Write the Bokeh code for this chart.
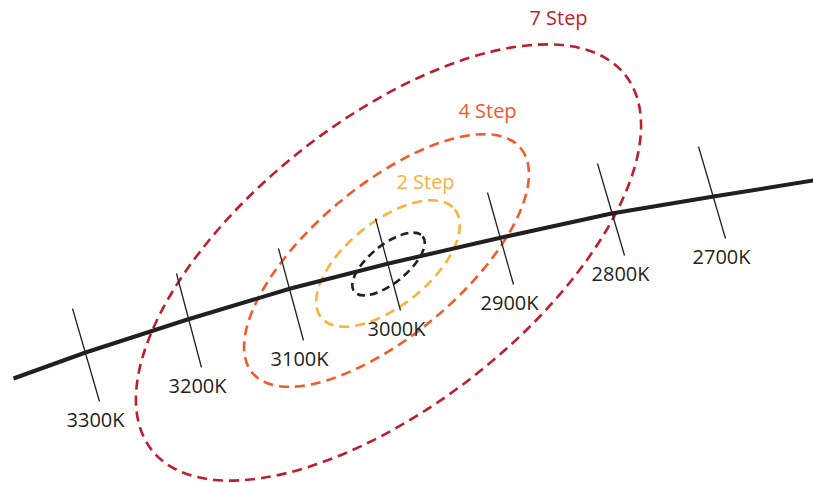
from bokeh.plotting import figure
from bokeh.models import Range1d, ColumnDataSource
from bokeh.core.properties import value
from bokeh.embed import file_html
from bokeh.resources import INLINE
import math

# Planckian locus (chart coordinates, y up)
locus_x = [13, 85, 187, 290, 388, 501, 611, 713, 813]
locus_y = [105, 131, 164, 195, 220, 246, 270, 287, 303]

# Isotemperature lines
cct_labels = ["3300K", "3200K", "3100K", "3000K", "2900K", "2800K", "2700K"]
iso_x0 = [72, 176, 278, 375, 487, 597, 698]
iso_y0 = [175, 210, 235, 265, 291, 320, 337]
iso_x1 = [99, 201, 303, 400, 513, 624, 725]
iso_y1 = [82, 116, 143, 173, 199, 228, 245]

# MacAdam ellipses (1, 2, 4, 7 step)
step_names = ["1 Step", "2 Step", "4 Step", "7 Step"]
ell_cx = [388, 387.5, 386, 388]
ell_cy = [219.5, 220, 223, 221]
ell_major = [88, 172, 350, 604]
ell_minor = [38, 84, 150, 284]
ell_angle_deg = [39, 39, 40, 38.4]
ell_colors = ["#231F20", "#FBB040", "#F15A29", "#BE1E2D"]

# Step labels (ellipses 2, 4, 7)
step_label_text = ["2 Step", "4 Step", "7 Step"]
step_label_x = [425, 487, 558]
step_label_y = [302, 373, 466]
step_label_colors = ["#FBB040", "#F15A29", "#BE1E2D"]

p = figure(width=813, height=483, x_range=Range1d(0, 813), y_range=Range1d(0, 483),
           output_backend="svg", toolbar_location=None, min_border=0)
p.axis.visible = False
p.grid.visible = False
p.outline_line_color = None
p.background_fill_color = "white"
p.border_fill_color = "white"

# ellipses
for i in range(len(step_names)):
    dash = "8 5" if i == 0 else "10 6"
    p.ellipse(x=[ell_cx[i]], y=[ell_cy[i]], width=[ell_major[i]], height=[ell_minor[i]],
              angle=[math.radians(ell_angle_deg[i])], fill_color=None,
              line_color=ell_colors[i], line_width=2.6, line_dash=dash)

# isotemperature lines
p.segment(x0=iso_x0, y0=iso_y0, x1=iso_x1, y1=iso_y1, line_color="#231F20", line_width=1.3)

# locus
p.line(locus_x, locus_y, line_color="#231F20", line_width=4)

# temperature labels
src = ColumnDataSource(dict(x=[v - 4 for v in iso_x1], y=[v - 18 for v in iso_y1], t=cct_labels))
p.text(x="x", y="y", text="t", source=src, text_font=value("Open Sans"), text_font_size="20px",
       text_align="center", text_baseline="middle", text_color="#231F20")

# step labels
src2 = ColumnDataSource(dict(x=step_label_x, y=step_label_y, t=step_label_text, c=step_label_colors))
p.text(x="x", y="y", text="t", source=src2, text_font=value("Open Sans"), text_font_size="20px",
       text_align="center", text_baseline="middle", text_color="c")

open("out.html", "w").write(file_html(p, INLINE))
